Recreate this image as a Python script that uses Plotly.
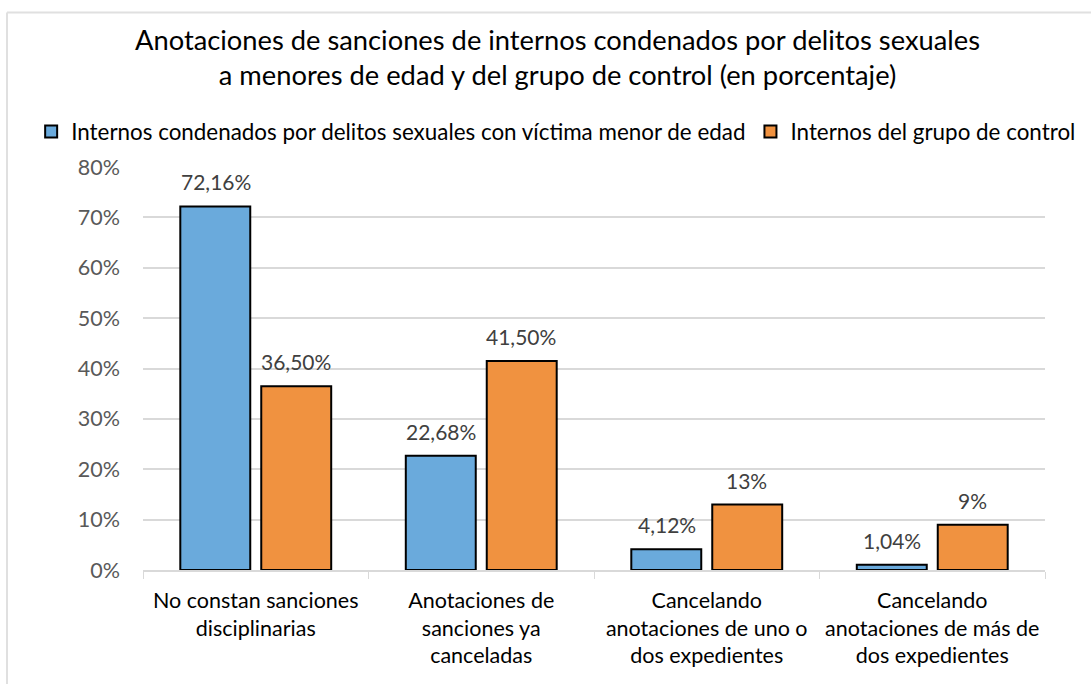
import plotly.graph_objects as go

# Chart data
categories = [
    "No constan sanciones<br>disciplinarias",
    "Anotaciones de<br>sanciones ya<br>canceladas",
    "Cancelando<br>anotaciones de uno o<br>dos expedientes",
    "Cancelando<br>anotaciones de más de<br>dos expedientes",
]
menores_values = [72.16, 22.68, 4.12, 1.04]
menores_labels = ["72,16%", "22,68%", "4,12%", "1,04%"]
control_values = [36.5, 41.5, 13, 9]
control_labels = ["36,50%", "41,50%", "13%", "9%"]
y_ticks = [0, 10, 20, 30, 40, 50, 60, 70, 80]
y_tick_labels = ["0%", "10%", "20%", "30%", "40%", "50%", "60%", "70%", "80%"]

FONT = "Lato"
BLUE = "#6aaadc"
ORANGE = "#f09240"

fig = go.Figure()

fig.add_trace(go.Bar(
    x=categories,
    y=menores_values,
    name="Internos condenados por delitos sexuales con víctima menor de edad",
    marker=dict(color=BLUE, line=dict(color="black", width=2)),
))
fig.add_trace(go.Bar(
    x=categories,
    y=control_values,
    name="Internos del grupo de control",
    marker=dict(color=ORANGE, line=dict(color="black", width=2)),
))

# Data labels above the bars
for cat, val, lab in zip(categories, menores_values, menores_labels):
    fig.add_annotation(x=cat, y=val, text=lab, showarrow=False, xshift=-40,
                       yanchor="bottom", yshift=10,
                       font=dict(family=FONT, size=21, color="#404040"))
for cat, val, lab in zip(categories, control_values, control_labels):
    fig.add_annotation(x=cat, y=val, text=lab, showarrow=False, xshift=40,
                       yanchor="bottom", yshift=10,
                       font=dict(family=FONT, size=21, color="#404040"))

# Light frame around the chart (top and left edges visible)
fig.add_shape(type="line", xref="paper", yref="paper",
              x0=-0.1508, x1=1.2, y0=1.3834, y1=1.3834,
              line=dict(color="#e0e0e0", width=2))
fig.add_shape(type="line", xref="paper", yref="paper",
              x0=-0.1508, x1=-0.1508, y0=-0.4, y1=1.3834,
              line=dict(color="#e0e0e0", width=2))

fig.update_layout(
    width=1091,
    height=684,
    barmode="group",
    bargap=0.282,
    bargroupgap=0.136,
    plot_bgcolor="white",
    paper_bgcolor="white",
    font=dict(family=FONT, color="#000000"),
    title=dict(
        text="Anotaciones de sanciones de internos condenados por delitos sexuales<br>"
             "a menores de edad y del grupo de control (en porcentaje)",
        x=0.511, xanchor="center", y=0.927, yanchor="top",
        font=dict(family=FONT, size=27.3, color="#000000"),
    ),
    legend=dict(
        orientation="h",
        x=-0.124, xanchor="left",
        y=1.087, yanchor="middle",
        font=dict(family=FONT, size=22.4, color="#000000"),
        itemwidth=30,
        traceorder="normal",
    ),
    margin=dict(l=143, r=46, t=167, b=114),
    showlegend=True,
)

fig.update_yaxes(
    range=[0, 80],
    tickvals=y_ticks,
    ticktext=y_tick_labels,
    showgrid=True,
    gridcolor="#d9d9d9",
    gridwidth=1.5,
    zeroline=False,
    tickfont=dict(family=FONT, size=21.5, color="#595959"),
    ticks="",
    ticklabelstandoff=22,
)
fig.update_xaxes(
    showline=True,
    linecolor="#d9d9d9",
    linewidth=1.5,
    ticks="outside",
    tickson="boundaries",
    ticklen=7,
    tickcolor="#d9d9d9",
    ticklabelstandoff=10,
    tickfont=dict(family=FONT, size=21.5, color="#000000"),
)

fig.write_html("out.html", config={"displayModeBar": False},
               post_script="document.body.style.margin='0';")
